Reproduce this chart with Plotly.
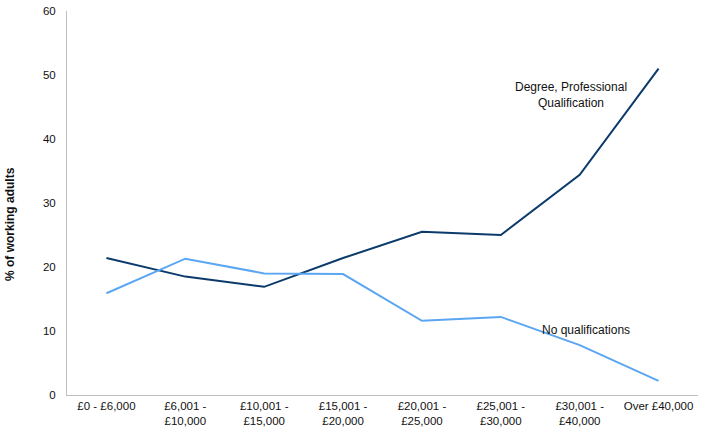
import plotly.graph_objects as go

income_bands = ["£0 - £6,000", "£6,001 -<br>£10,000", "£10,001 -<br>£15,000",
                "£15,001 -<br>£20,000", "£20,001 -<br>£25,000", "£25,001 -<br>£30,000",
                "£30,001 -<br>£40,000", "Over £40,000"]
degree = [21.4, 18.5, 16.9, 21.4, 25.5, 25.0, 34.4, 51.0]
no_quals = [15.9, 21.3, 19.0, 18.9, 11.6, 12.2, 7.8, 2.2]

fig = go.Figure()
fig.add_trace(go.Scatter(x=income_bands, y=degree, mode="lines",
                         line=dict(color="#0b3a6b", width=2),
                         name="Degree, Professional Qualification"))
fig.add_trace(go.Scatter(x=income_bands, y=no_quals, mode="lines",
                         line=dict(color="#5ba6f2", width=2),
                         name="No qualifications"))

font = dict(family="Liberation Sans, Arial, sans-serif", size=11.5, color="#111")
label_font = dict(family="Liberation Sans, Arial, sans-serif", size=12, color="#111")

fig.add_annotation(x=5.886, y=46.9, text="Degree, Professional<br>Qualification",
                   showarrow=False, font=label_font, align="center")
fig.add_annotation(x=6.08, y=10.2, text="No qualifications",
                   showarrow=False, font=label_font)
# y axis title, sits a little below the middle like the original
fig.add_annotation(xref="paper", yref="paper", x=-57 / 631, y=(395 - 224) / 384,
                   xanchor="center", yanchor="middle", text="<b>% of working adults</b>",
                   showarrow=False, textangle=-90, font=label_font)

fig.update_layout(
    width=711, height=442,
    margin=dict(l=67, r=13, t=11, b=47, autoexpand=False),
    paper_bgcolor="white", plot_bgcolor="white",
    showlegend=False, font=font,
    xaxis=dict(type="category", range=[-0.5, 7.5], showgrid=False, showline=True,
               linecolor="#bfbfbf", linewidth=1, ticks="", tickfont=font, automargin=False),
    yaxis=dict(range=[0, 60], dtick=10, showgrid=False, showline=True,
               linecolor="#bfbfbf", linewidth=1, ticks="", zeroline=False,
               tickfont=font, ticklabelstandoff=8, automargin=False),
)

# drop the browser's default 8px body margin so the figure sits at the page corner
fig.write_html("out.html", config={"displayModeBar": False},
               post_script="document.body.style.margin='0';")
